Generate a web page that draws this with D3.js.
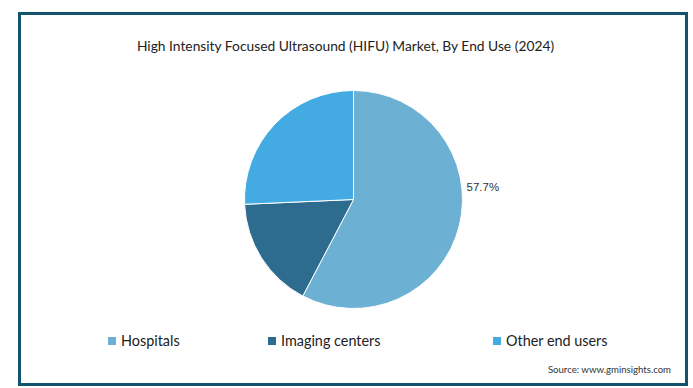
<!DOCTYPE html>
<html>
<head>
<meta charset="utf-8">
<script src="https://cdn.jsdelivr.net/npm/d3@7"></script>
<style>
  html, body { margin: 0; padding: 0; background: #fff; }
</style>
</head>
<body>
<div id="chart"></div>
<script>
const categories = ["Hospitals", "Imaging centers", "Other end users"];
const shares = [57.7, 16.6, 25.7];
const colors = ["#6cb0d4", "#2d6b8f", "#43aae2"];
const labelled = [true, false, false];

const width = 693, height = 388;

const svg = d3.select("#chart").append("svg")
  .attr("width", width)
  .attr("height", height);

// outer frame
svg.append("rect")
  .attr("x", 19.5).attr("y", 13.5)
  .attr("width", 667).attr("height", 371)
  .attr("fill", "#fff")
  .attr("stroke", "#13536b")
  .attr("stroke-width", 3);

svg.append("text")
  .attr("x", 345.5).attr("y", 51)
  .attr("text-anchor", "middle")
  .style("font-family", "Lato, 'Noto Sans', sans-serif")
  .style("font-size", "13.8px")
  .style("fill", "#222")
  .text("High Intensity Focused Ultrasound (HIFU) Market, By End Use (2024)");

const cx = 353.5, cy = 199.5, r = 109;

const data = categories.map((c, i) => ({ name: c, value: shares[i], color: colors[i], label: labelled[i] }));

const pie = d3.pie().sort(null).value(d => d.value);
const arc = d3.arc().innerRadius(0).outerRadius(r);

const g = svg.append("g").attr("transform", `translate(${cx},${cy})`);

const arcs = pie(data);
g.selectAll("path")
  .data(arcs)
  .enter().append("path")
  .attr("d", arc)
  .attr("fill", d => d.data.color)
  .attr("stroke", "#fff")
  .attr("stroke-width", 1);

// data label just outside the right edge of the slice
g.selectAll("text.lbl")
  .data(arcs.filter(d => d.data.label))
  .enter().append("text")
  .attr("class", "lbl")
  .attr("x", r + 4)
  .attr("y", -13)
  .attr("dy", "0.35em")
  .style("font-family", "'Liberation Sans', Arial, sans-serif")
  .style("font-size", "11.5px")
  .style("fill", "#333")
  .text(d => d3.format(".1f")(d.data.value) + "%");

// legend
const legendX = d3.scaleOrdinal().domain(categories).range([108, 268, 493]);
const lg = svg.append("g").selectAll("g")
  .data(data)
  .enter().append("g")
  .attr("transform", d => `translate(${legendX(d.name)},341)`);

lg.append("rect")
  .attr("x", 0).attr("y", -4)
  .attr("width", 8).attr("height", 8)
  .attr("fill", d => d.color);

lg.append("text")
  .attr("x", 13)
  .attr("dy", "0.35em")
  .style("font-family", "Lato, 'Noto Sans', sans-serif")
  .style("font-size", "14.4px")
  .style("fill", "#222")
  .text(d => d.name);

svg.append("text")
  .attr("x", 671).attr("y", 373)
  .attr("text-anchor", "end")
  .style("font-family", "Lato, 'Noto Sans', sans-serif")
  .style("font-size", "9.6px")
  .style("fill", "#333")
  .text("Source: www.gminsights.com");
</script>
</body>
</html>
